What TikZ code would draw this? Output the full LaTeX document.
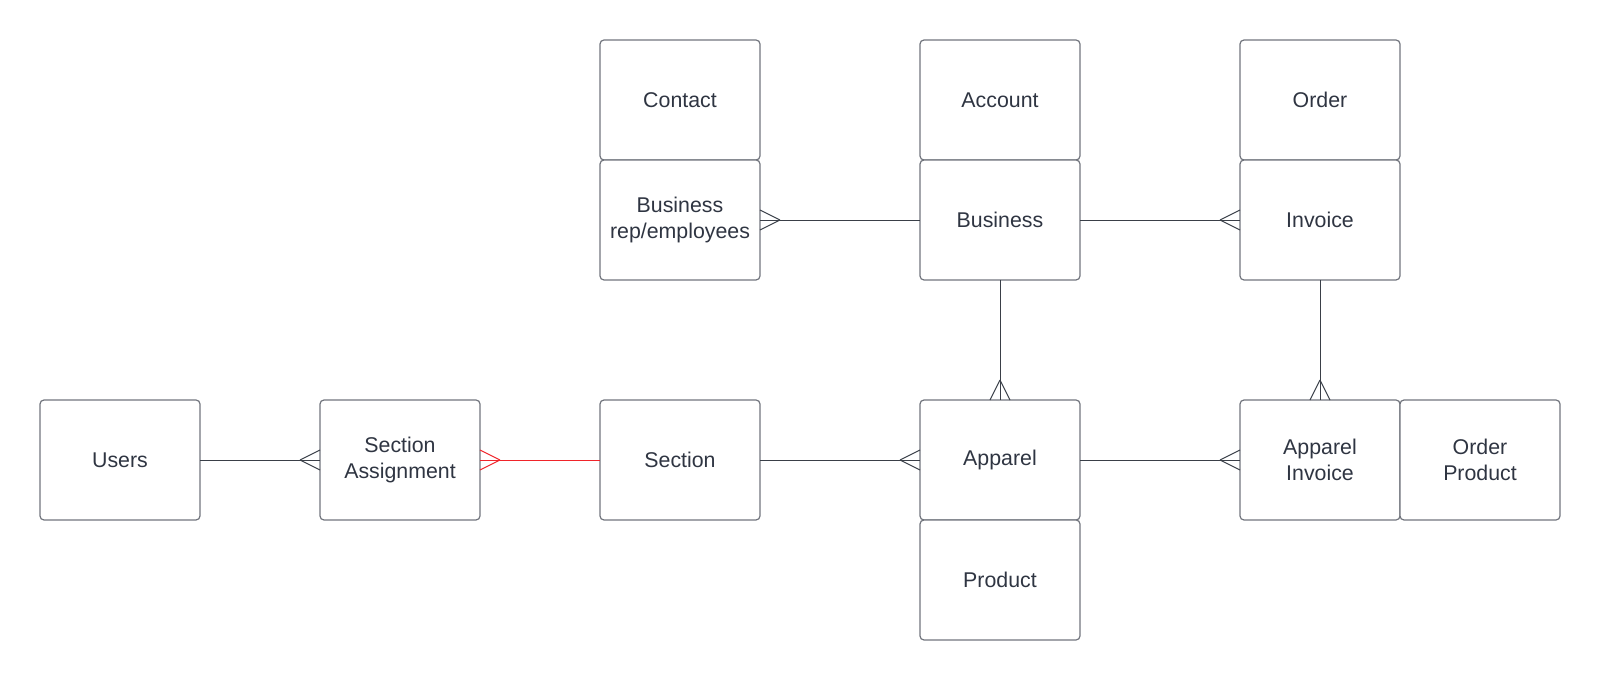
\documentclass[tikz,border=0pt]{standalone}
\usepackage{fontspec}
\setmainfont{Liberation Sans}
\usetikzlibrary{calc}
\definecolor{boxline}{HTML}{72767E}
\definecolor{connline}{HTML}{3A3F48}
\definecolor{txt}{HTML}{2F3542}
\definecolor{redline}{HTML}{F0242A}
\newcommand\crowfoot[4]{%
  \draw[#1] ($(#2)+(#3)$) -- ($(#2)+(#4)$) ($(#2)+(#3)$) -- ($(#2)-(#4)$);}
\begin{document}
\begin{tikzpicture}[x=0.75pt,y=-0.75pt,
  entity/.style={draw=boxline,line width=0.9pt,rounded corners=3pt,fill=white,
    minimum width=120pt,minimum height=90pt,outer sep=0pt,inner sep=2pt,
    align=center,text=txt,font=\fontsize{16}{20}\selectfont},
  conn/.style={draw=connline,line width=0.7pt},
  redconn/.style={draw=redline,line width=0.7pt}]
\useasboundingbox[fill=white] (0,0) rectangle (1600,680);
% row 1
\node[entity] (contact) at (680,100) {Contact};
\node[entity] (account) at (1000,100) {Account};
\node[entity] (order) at (1320,100) {Order};
% row 2
\node[entity] (rep) at (680,220) {Business\\rep/employees};
\node[entity] (business) at (1000,220) {Business};
\node[entity] (invoice) at (1320,220) {Invoice};
% row 3
\node[entity] (users) at (120,460) {Users};
\node[entity] (sa) at (400,460) {Section\\Assignment};
\node[entity] (section) at (680,460) {Section};
\node[entity] (apparel) at (1000,460) {Apparel};
\node[entity] (ai) at (1320,460) {Apparel\\Invoice};
\node[entity] (op) at (1480,460) {Order\\Product};
% row 4
\node[entity] (product) at (1000,580) {Product};
% connectors
\draw[conn] (users.east) -- (sa.west);
\crowfoot{conn}{sa.west}{-20,0}{0,10}
\draw[redconn] (sa.east) -- (section.west);
\crowfoot{redconn}{sa.east}{20,0}{0,10}
\draw[conn] (section.east) -- (apparel.west);
\crowfoot{conn}{apparel.west}{-20,0}{0,10}
\draw[conn] (apparel.east) -- (ai.west);
\crowfoot{conn}{ai.west}{-20,0}{0,10}
\draw[conn] (rep.east) -- (business.west);
\crowfoot{conn}{rep.east}{20,0}{0,10}
\draw[conn] (business.east) -- (invoice.west);
\crowfoot{conn}{invoice.west}{-20,0}{0,10}
\draw[conn] (business.south) -- (apparel.north);
\crowfoot{conn}{apparel.north}{0,-20}{10,0}
\draw[conn] (invoice.south) -- (ai.north);
\crowfoot{conn}{ai.north}{0,-20}{10,0}
\end{tikzpicture}
\end{document}
